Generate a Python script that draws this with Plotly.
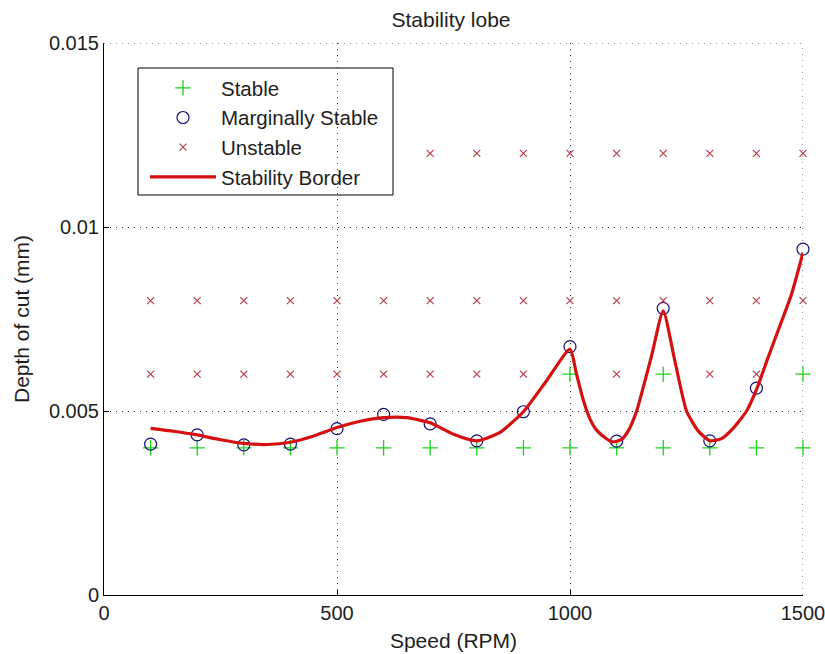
import plotly.graph_objects as go

# ---- data ----
stable_rpm = [100, 200, 300, 400, 500, 600, 700, 800, 900, 1000, 1100, 1200, 1300, 1400, 1500,
              1000, 1200, 1500]
stable_depth = [0.004] * 15 + [0.006, 0.006, 0.006]

marginal_rpm = [100, 200, 300, 400, 500, 600, 700, 800, 900, 1000, 1100, 1200, 1300, 1400, 1500]
marginal_depth = [0.00410, 0.00435, 0.00408, 0.00410, 0.00452, 0.00491, 0.00465, 0.00419, 0.00498,
                  0.00675, 0.00418, 0.00779, 0.00419, 0.00562, 0.00940]

unstable_rpm_6 = [100, 200, 300, 400, 500, 600, 700, 800, 900, 1100, 1300, 1400]
unstable_rpm_8 = [100, 200, 300, 400, 500, 600, 700, 800, 900, 1000, 1100, 1200, 1300, 1400, 1500]
unstable_rpm_12 = [700, 800, 900, 1000, 1100, 1200, 1300, 1400, 1500]
unstable_rpm = unstable_rpm_6 + unstable_rpm_8 + unstable_rpm_12
unstable_depth = [0.006] * len(unstable_rpm_6) + [0.008] * len(unstable_rpm_8) + [0.012] * len(unstable_rpm_12)

border_rpm = [100, 150, 200, 250, 300, 350, 400, 450, 500, 550, 600, 650, 700, 750, 800, 850,
              900, 950, 1000, 1014, 1029, 1043, 1057, 1079, 1091, 1110, 1125, 1143, 1175, 1200,
              1225, 1250, 1275, 1300, 1325, 1350, 1379, 1400, 1425, 1450, 1475, 1500]
border_depth = [0.00453, 0.00445, 0.00435, 0.00422, 0.00412, 0.00409, 0.00415, 0.00432, 0.00455,
                0.00472, 0.00482, 0.00482, 0.00468, 0.00437, 0.00419, 0.00442, 0.00498, 0.00583,
                0.00668, 0.00600, 0.00528, 0.00478, 0.00448, 0.00424, 0.00416, 0.00422, 0.00446,
                0.00500, 0.00650, 0.00772, 0.00636, 0.00500, 0.00446, 0.00419, 0.00425, 0.00453,
                0.00500, 0.00558, 0.00645, 0.00730, 0.00816, 0.00930]

x_ticks = [0, 500, 1000, 1500]
y_ticks = [0, 0.005, 0.01, 0.015]
y_tick_labels = ["0", "0.005", "0.01", "0.015"]

FONT = "Liberation Sans, Arial, sans-serif"
FS = 21
TXT = "#1e1e1e"
DOT = "1px,5px"

# the page body margin is removed (post_script below), so the figure fills the window
W, H = 825, 654
L, T, R, B = 104, 43, 22, 59
PW, PH = W - L - R, H - T - B


def px_x(x):  # window pixel -> paper x
    return (x - L) / PW


def px_y(y):  # window pixel -> paper y
    return (H - B - y) / PH


fig = go.Figure()

fig.add_trace(go.Scatter(
    x=stable_rpm, y=stable_depth, mode="markers", name="Stable", legendgroup="a", cliponaxis=False,
    marker=dict(symbol="cross-thin", size=11, color="#1fd11f",
                line=dict(color="#1fd11f", width=1.3)),
))
fig.add_trace(go.Scatter(
    x=marginal_rpm, y=marginal_depth, mode="markers", name="Marginally Stable", legendgroup="b",
    cliponaxis=False,
    marker=dict(symbol="circle-open", size=12, color="#10107a",
                line=dict(color="#10107a", width=1.2)),
))
fig.add_trace(go.Scatter(
    x=unstable_rpm, y=unstable_depth, mode="markers", name="Unstable", legendgroup="c", cliponaxis=False,
    marker=dict(symbol="x-thin", size=7, color="#b8404a",
                line=dict(color="#b8404a", width=1.2)),
))
fig.add_trace(go.Scatter(
    x=border_rpm, y=border_depth, mode="lines", name="Stability Border", legendgroup="d",
    line=dict(color="#d41010", width=3.2, shape="spline", smoothing=0.55),
))

axis_common = dict(
    showline=True, linecolor="black", linewidth=1, mirror=False,
    ticks="inside", ticklen=5, tickcolor="black", tickwidth=1,
    showgrid=True, gridcolor="#333", gridwidth=1, griddash=DOT,
    zeroline=False, automargin=False, ticklabeloverflow="allow",
    tickfont=dict(family=FONT, size=20, color=TXT),
)

fig.update_layout(
    width=W, height=H,
    margin=dict(l=L, r=R, t=T, b=B),
    paper_bgcolor="white", plot_bgcolor="white",
    font=dict(family=FONT, size=FS, color=TXT),
    title=dict(text="Stability lobe", x=451 / W, xanchor="center", y=1 - 20 / H, yanchor="middle",
               font=dict(family=FONT, size=FS, color=TXT)),
    xaxis=dict(range=[0, 1500], tickvals=x_ticks,
               title=dict(text="Speed (RPM)", standoff=10, font=dict(family=FONT, size=FS)),
               **axis_common),
    yaxis=dict(range=[0, 0.015], tickvals=y_ticks, ticktext=y_tick_labels,
               title=dict(text="Depth of cut (mm)", standoff=13, font=dict(family=FONT, size=FS)),
               **axis_common),
    legend=dict(x=px_x(145), y=px_y(68), xanchor="left", yanchor="top",
                borderwidth=0, bgcolor="rgba(0,0,0,0)",
                font=dict(family=FONT, size=20.5, color=TXT),
                tracegroupgap=0, itemwidth=66),
    showlegend=True,
    shapes=[
        # dotted grid lines at the range ends (top and right), as in the original
        dict(type="line", xref="x", yref="paper", x0=1500, x1=1500, y0=0, y1=1,
             line=dict(color="#333", width=1, dash=DOT), layer="between"),
        dict(type="line", xref="paper", yref="y", x0=0, x1=1, y0=0.015, y1=0.015,
             line=dict(color="#333", width=1, dash=DOT), layer="between"),
        # legend box
        dict(type="rect", xref="paper", yref="paper",
             x0=px_x(138), x1=px_x(393), y0=px_y(195), y1=px_y(68),
             line=dict(color="black", width=1), fillcolor="white", layer="between"),
    ],
)

fig.write_html("out.html",
               config={"displayModeBar": False},
               post_script="document.body.style.margin='0';document.body.style.overflow='hidden';")
